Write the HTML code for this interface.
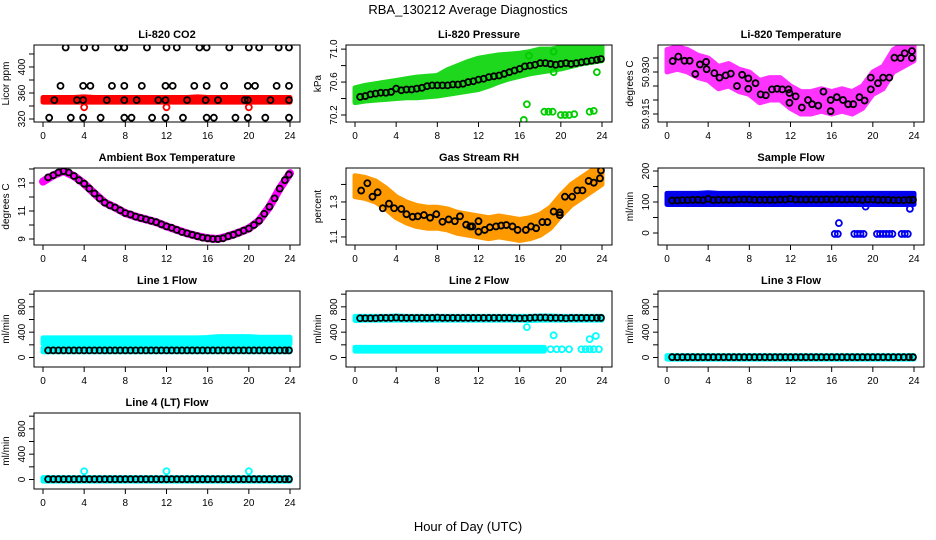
<!DOCTYPE html>
<html><head><meta charset="utf-8"><style>
body{margin:0;background:#fff}
svg{display:block;font-family:"Liberation Sans",sans-serif}
</style></head><body>
<svg id="chart" width="936" height="540" viewBox="0 0 936 540" xmlns="http://www.w3.org/2000/svg">
<text x="468" y="14" text-anchor="middle" font-size="13">RBA_130212  Average Diagnostics</text>
<text x="468" y="531" text-anchor="middle" font-size="13">Hour of Day (UTC)</text>
</svg>
<script>
// ---- shared data ----
const HALF = [0.5,1,1.5,2,2.5,3,3.5,4,4.5,5,5.5,6,6.5,7,7.5,8,8.5,9,9.5,10,10.5,11,11.5,12,12.5,13,13.5,14,14.5,15,15.5,16,16.5,17,17.5,18,18.5,19,19.5,20,20.5,21,21.5,22,22.5,23,23.5,23.9];
const HOURS = [0,1,2,3,4,5,6,7,8,9,10,11,12,13,14,15,16,17,18,19,20,21,22,23,24];
const X_TICKS = [0,4,8,12,16,20,24];

// CO2
const co2BandLo = [346,346,346,346,346,346,346,346,346,346,346,346,346,346,346,346,346,346,346,346,346,346,346,346,346];
const co2BandHi = [353,353,353,353,354,353,353,353,353,353,353,353,353,353,353,354,353,353,353,353,353,353,353,353,353];
const co2MeanX = [1.1,3.3,3.9,6.2,7.9,9.1,11.2,11.9,14.0,15.8,17.0,19.6,19.9,22.1,23.9, 2.2,4.0,5.1,7.3,7.9,10.1,12.0,13.0,15.2,15.9,18.1,20.0,21.0,22.9,23.9, 1.7,3.9,4.6,6.7,7.9,9.6,11.9,12.6,14.7,15.9,17.6,19.9,20.6,22.7,23.9, 0.6,2.7,3.9,5.6,7.9,8.6,10.6,11.9,13.6,15.9,16.6,18.7,19.9,21.6,23.9];
const co2MeanY = [349,349,349,349,349,349,349,349,349,349,349,349,349,349,349, 430,430,430,430,430,430,430,430,430,430,430,430,430,430,430, 371,371,371,371,371,371,371,371,371,371,371,371,371,371,371, 322,322,322,322,322,322,322,322,322,322,322,322,322,322,322];
const co2OutX = [4,12,20];
const co2OutY = [338,338,338];

// Pressure
const presBandLo = [70.35,70.37,70.38,70.39,70.40,70.41,70.41,70.42,70.43,70.45,70.47,70.49,70.51,70.55,70.60,70.64,70.67,70.70,70.72,70.74,70.76,70.79,70.82,70.84,70.86];
const presBandHi = [70.53,70.56,70.58,70.60,70.62,70.64,70.66,70.67,70.68,70.75,70.80,70.85,70.89,70.91,70.93,70.94,70.95,70.97,71.00,71.00,71.02,71.03,71.03,71.04,71.05];
const presMean = [70.42,70.43,70.45,70.46,70.47,70.47,70.48,70.52,70.50,70.51,70.51,70.52,70.53,70.55,70.56,70.56,70.56,70.56,70.57,70.57,70.58,70.60,70.61,70.63,70.64,70.66,70.67,70.68,70.70,70.72,70.74,70.76,70.79,70.80,70.81,70.83,70.83,70.82,70.81,70.82,70.83,70.82,70.83,70.84,70.85,70.86,70.87,70.88];
const presOutX = [16.4,16.7,18.4,18.8,19.2,19.3,20.0,20.4,20.8,21.3,22.8,23.2,23.5,16.9,19.3];
const presOutY = [70.14,70.33,70.24,70.24,70.24,70.72,70.20,70.20,70.20,70.21,70.24,70.25,70.72,70.92,70.97];

// Li-820 temperature
const tempBandLo = [50.930,50.931,50.930,50.928,50.927,50.924,50.925,50.923,50.922,50.919,50.920,50.920,50.917,50.915,50.915,50.916,50.915,50.916,50.915,50.917,50.922,50.924,50.930,50.932,50.934];
const tempBandHi = [50.938,50.939,50.938,50.936,50.935,50.932,50.933,50.931,50.930,50.927,50.928,50.928,50.925,50.923,50.923,50.924,50.923,50.924,50.923,50.925,50.930,50.932,50.938,50.940,50.942];
const tempMeanX = [0.55,1.1,1.7,2.2,2.75,3.2,3.8,3.85,4.6,5.1,5.7,6.2,6.8,7.3,7.9,7.9,8.6,9.1,9.6,10.2,10.7,11.2,11.8,11.9,11.9,12.5,13.1,13.7,14.1,14.7,15.2,15.9,15.9,16.5,17.1,17.6,18.1,18.7,19.2,19.8,19.8,20.5,21.0,21.6,22.1,22.7,23.1,23.8,23.8];
const tempMeanY = [50.9339,50.9355,50.934,50.934,50.9293,50.9327,50.9336,50.931,50.9296,50.928,50.9288,50.9294,50.925,50.929,50.9277,50.924,50.926,50.922,50.9217,50.9238,50.924,50.9238,50.9238,50.9225,50.919,50.9213,50.9173,50.920,50.9185,50.918,50.923,50.920,50.916,50.921,50.920,50.9185,50.9185,50.921,50.9198,50.9238,50.928,50.926,50.928,50.928,50.9351,50.935,50.9367,50.9375,50.935];

// Ambient box temperature
const ambBand = [13.1,13.55,13.85,13.5,12.95,12.25,11.6,11.25,10.85,10.6,10.4,10.2,9.9,9.65,9.4,9.2,9.05,9.0,9.2,9.45,9.75,10.3,11.3,12.6,13.7];
const ambMean = [13.4,13.55,13.75,13.85,13.75,13.5,13.2,12.95,12.6,12.25,11.9,11.6,11.4,11.25,11.05,10.85,10.75,10.6,10.5,10.4,10.3,10.2,10.05,9.9,9.8,9.65,9.5,9.4,9.3,9.2,9.1,9.05,9.0,9.0,9.05,9.2,9.3,9.45,9.6,9.75,10.0,10.3,10.8,11.3,11.9,12.6,13.2,13.6];

// Gas stream RH
const rhBandLo = [1.33,1.32,1.30,1.26,1.21,1.18,1.16,1.15,1.15,1.14,1.12,1.11,1.10,1.09,1.10,1.09,1.08,1.09,1.11,1.15,1.22,1.28,1.32,1.36,1.40];
const rhBandHi = [1.45,1.44,1.42,1.38,1.33,1.30,1.28,1.27,1.27,1.26,1.24,1.23,1.22,1.21,1.22,1.21,1.20,1.21,1.23,1.27,1.34,1.40,1.44,1.48,1.50];
const rhMeanX = [0.6,1.2,1.7,2.2,2.7,3.3,3.8,4.5,5.0,5.6,6.1,6.7,7.3,7.9,8.5,9.1,9.7,10.2,10.8,11.2,11.4,12.0,12.0,12.6,13.1,13.7,14.2,14.7,15.3,15.8,16.6,17.1,17.6,18.2,18.7,19.3,19.9,19.9,20.4,21.1,21.6,22.1,22.7,23.2,23.8,23.9];
const rhMeanY = [1.365,1.407,1.33,1.355,1.264,1.29,1.264,1.26,1.23,1.215,1.218,1.225,1.21,1.23,1.187,1.2,1.19,1.218,1.17,1.16,1.16,1.19,1.13,1.14,1.155,1.16,1.165,1.168,1.16,1.14,1.14,1.16,1.15,1.185,1.185,1.245,1.24,1.225,1.33,1.33,1.366,1.366,1.42,1.41,1.435,1.48];

// Sample flow
const sfBandLo = [92,92,92,92,92,92,92,92,92,92,92,92,92,92,92,92,92,92,92,92,92,92,92,92,92];
const sfBandHi = [128,128,128,128,130,128,128,128,128,128,128,128,128,128,128,128,128,128,128,128,128,128,128,128,128];
const sfMean = [105,105,106,106,107,107,106,110,106,107,107,107,107,108,108,108,107,107,107,107,107,108,108,110,108,108,108,108,108,108,109,108,109,108,108,108,108,107,108,108,107,107,107,106,106,106,107,107];
const sfOutX = [16.3,16.6,16.7,18.2,18.5,18.8,19.1,19.3,20.4,20.7,21.0,21.3,21.6,21.9,22.8,23.1,23.4,23.6];
const sfOutY = [-3,-3,32,-3,-3,-3,-3,85,-3,-3,-3,-3,-3,-3,-3,-3,-3,78];

// Line flows
const l1BandLo = [215,215,215,215,215,215,215,215,215,215,215,215,215,215,215,215,215,205,205,205,205,205,205,205,215];
const l1BandHi = [310,310,310,310,310,310,310,310,310,310,310,310,310,310,310,310,315,330,330,330,330,320,320,320,320];
const l1LowLo = [90,90,90,90,90,90,90,90,90,90,90,90,90,90,90,90,90,90,90,90,90,90,90,90,90];
const l1LowHi = [150,150,150,150,150,150,150,150,150,150,150,150,150,150,150,150,150,150,150,150,150,150,150,150,150];
const l1Mean = [112,112,112,112,112,112,112,112,112,112,112,112,112,112,112,112,112,112,112,112,112,112,112,112,112,112,112,112,112,112,112,112,112,112,112,112,112,112,112,112,112,112,112,112,112,112,112,112];

const l2BandLo = [585,590,590,590,590,590,590,590,590,590,590,590,590,590,590,590,590,585,590,590,590,590,590,590,590];
const l2BandHi = [650,650,650,650,655,650,650,650,650,650,650,650,650,650,650,650,650,650,655,655,650,650,650,650,650];
const l2LowLo = [100,100,100,100,100,100,100,100,100,100,100,100,100,100,100,100,100,100,100];
const l2LowHi = [160,160,160,160,160,160,160,160,160,160,160,160,160,160,160,160,160,160,160];
const l2LowHours = [0,1,2,3,4,5,6,7,8,9,10,11,12,13,14,15,16,17,18.4];
const l2Mean = [620,620,620,620,625,625,625,630,625,625,625,625,625,625,625,630,625,625,625,625,625,625,625,625,625,625,625,625,625,625,620,620,620,625,630,630,630,625,625,625,620,625,625,625,625,625,625,625];
const l2OutX = [16.7,19.3,22.8,23.4,19.0,19.6,20.1,20.8,22.0,22.4,22.8,23.2,23.7];
const l2OutY = [480,350,290,340,130,130,130,130,130,130,130,130,130];

const l3BandLo = [-25,-25,-25,-25,-25,-25,-25,-25,-25,-25,-25,-25,-25,-25,-25,-25,-25,-25,-25,-25,-25,-25,-25,-25,-25];
const l3BandHi = [30,30,30,30,30,30,30,30,30,30,30,30,30,30,30,30,30,30,30,30,30,30,30,30,30];
const l3Mean = [5,5,5,5,5,5,5,5,5,5,5,5,5,5,5,5,5,5,5,5,5,5,5,5,5,5,5,5,5,5,5,5,5,5,5,5,5,5,5,5,5,5,5,5,5,5,5,5];
const l4Mean = [5,5,5,5,5,5,5,5,5,5,5,5,5,5,5,5,5,5,5,5,5,5,5,5,5,5,5,5,5,5,5,5,5,5,5,5,5,5,5,5,5,5,5,5,5,5,5,5];
const l4OutX = [4,12,20];
const l4OutY = [130,130,130];

// ---- drawing ----
const NS = "http://www.w3.org/2000/svg";
const svg = document.getElementById("chart");
const COL_LEFT = [34,346,658];
const ROW_TOP = [45,168,291,413];
const ROW_H = [77,77,76,76];

function mk(tag, attrs, parent){
  const e = document.createElementNS(NS, tag);
  for (const k in attrs) e.setAttribute(k, attrs[k]);
  (parent||svg).appendChild(e);
  return e;
}

function makePanel(o){
  const L = COL_LEFT[o.col], R = L+266, T = ROW_TOP[o.row], B = T+ROW_H[o.row];
  const g = mk("g", {});
  
  
  const xs = h => L+9+h*(247/24);
  const ys = v => B-(v-o.ymin)/(o.ymax-o.ymin)*(B-T);
  const clipId = "clip-"+o.name;
  const cp = mk("clipPath", {id: clipId}, g);
  mk("rect", {x:L, y:T, width:266, height:B-T}, cp);
  const plot = mk("g", {"clip-path":"url(#"+clipId+")"}, g);
  
  
  // title
  const t = mk("text", {x:(L+R)/2, y:T-7, "text-anchor":"middle", "font-size":"11", "font-weight":"bold"}, g);
  t.textContent = o.title;
  
  
  // y label
  const yl = mk("text", {transform:"translate("+(L-25)+","+((T+B)/2)+") rotate(-90)", "text-anchor":"middle", "font-size":"10"}, g);
  yl.textContent = o.ylab;
  
  
  // x ticks
  X_TICKS.forEach(h => {
    const tk = mk("line", {x1:xs(h), x2:xs(h), y1:B, y2:B+5, stroke:"#000"}, g);
    
    
    const tl = mk("text", {x:xs(h), y:B+17, "text-anchor":"middle", "font-size":"10"}, g);
    tl.textContent = h;
    
    
  });
  o.yticks.forEach(v => {
    const tk = mk("line", {x1:L-5, x2:L, y1:ys(v), y2:ys(v), stroke:"#000"}, g);
    
    
  });
  o.ylabels.forEach((lab,i) => {
    const tl = mk("text", {transform:"translate("+(L-9)+","+ys(o.ylabelVals[i])+") rotate(-90)", "text-anchor":"middle", "font-size":"10"}, g);
    tl.textContent = lab;
    
    
  });
  return {g, plot, xs, ys, L, R, T, B};
}

function band(p, hrs, lo, hi, fill, name){
  let pts = hrs.map((h,i)=>p.xs(h)+","+p.ys(hi[i]));
  for (let i=hrs.length-1;i>=0;i--) pts.push(p.xs(hrs[i])+","+p.ys(lo[i]));
  const e = mk("polygon", {points:pts.join(" "), fill:fill, stroke:fill, "stroke-width":"5", "stroke-linejoin":"round"}, p.plot);
  
  
}
function pts(p, xsArr, ysArr, color, name){
  xsArr.forEach((h,i)=>{
    const c = mk("circle", {cx:p.xs(h), cy:p.ys(ysArr[i]), r:"3", fill:"none", stroke:color, "stroke-width":"1.8"}, p.plot);
    
    
  });
}
function box(p){
  const r = mk("rect", {x:p.L, y:p.T, width:266, height:p.B-p.T, fill:"none", stroke:"#000", "stroke-width":"1"}, p.g);
  
  
}

const FLOW = {ymin:-150, ymax:1050, yticks:[0,200,400,600,800,1000], ylabels:["0","400","800"], ylabelVals:[0,400,800], ylab:"ml/min"};

// CO2
let p = makePanel({name:"co2-panel", col:0,row:0,title:"Li-820 CO2",ylab:"Licor ppm",ymin:315.4,ymax:433.8,yticks:[320,340,360,380,400,420],ylabels:["320","360","400"],ylabelVals:[320,360,400]});
band(p, HOURS, co2BandLo, co2BandHi, "#ff0000", "co2-raw-band");
pts(p, co2OutX, co2OutY, "#ff0000", "co2-raw-point");
pts(p, co2MeanX, co2MeanY, "#000", "co2-mean-point");
box(p);

// Pressure
p = makePanel({name:"pressure-panel", col:1,row:0,title:"Li-820 Pressure",ylab:"kPa",ymin:70.115,ymax:71.05,yticks:[70.2,70.4,70.6,70.8,71.0],ylabels:["70.2","70.6","71.0"],ylabelVals:[70.2,70.6,71.0]});
band(p, HOURS, presBandLo, presBandHi, "#1ed81e", "pressure-raw-band");
pts(p, presOutX, presOutY, "#00cc00", "pressure-raw-point");
pts(p, HALF, presMean, "#000", "pressure-mean-point");
box(p);

// Li-820 temperature
p = makePanel({name:"licor-temp-panel", col:2,row:0,title:"Li-820 Temperature",ylab:"degrees C",ymin:50.91214,ymax:50.93964,yticks:[50.915,50.92,50.925,50.93,50.935],ylabels:["50.915","50.930"],ylabelVals:[50.915,50.93]});
band(p, HOURS, tempBandLo, tempBandHi, "#ff33ff", "licor-temp-raw-band");
pts(p, tempMeanX, tempMeanY, "#000", "licor-temp-mean-point");
box(p);

// Ambient
p = makePanel({name:"ambient-temp-panel", col:0,row:1,title:"Ambient Box Temperature",ylab:"degrees C",ymin:8.571,ymax:14.07,yticks:[9,10,11,12,13,14],ylabels:["9","11","13"],ylabelVals:[9,11,13]});
(function(){
  const e = mk("polyline", {points:HOURS.map((h,i)=>p.xs(h)+","+p.ys(ambBand[i])).join(" "), fill:"none", stroke:"#ff00ff", "stroke-width":"8", "stroke-linejoin":"round", "stroke-linecap":"round"}, p.plot);
  
  
})();
pts(p, HALF, ambMean, "#000", "ambient-mean-point");
box(p);

// RH
p = makePanel({name:"rh-panel", col:1,row:1,title:"Gas Stream RH",ylab:"percent",ymin:1.054,ymax:1.494,yticks:[1.1,1.2,1.3,1.4],ylabels:["1.1","1.3"],ylabelVals:[1.1,1.3]});
band(p, HOURS, rhBandLo, rhBandHi, "#ff9900", "rh-raw-band");
pts(p, rhMeanX, rhMeanY, "#000", "rh-mean-point");
box(p);

// Sample flow
p = makePanel({name:"sample-flow-panel", col:2,row:1,title:"Sample Flow",ylab:"ml/min",ymin:-38.7,ymax:209.7,yticks:[0,50,100,150,200],ylabels:["0","100","200"],ylabelVals:[0,100,200]});
band(p, HOURS, sfBandLo, sfBandHi, "#0000ee", "sample-flow-raw-band");
pts(p, sfOutX, sfOutY, "#0000ee", "sample-flow-raw-point");
pts(p, HALF, sfMean, "#000", "sample-flow-mean-point");
box(p);

// Line 1
p = makePanel(Object.assign({name:"line1-flow-panel", col:0,row:2,title:"Line 1 Flow"}, FLOW));
band(p, HOURS, l1BandLo, l1BandHi, "#00ffff", "line1-raw-band");
band(p, HOURS, l1LowLo, l1LowHi, "#00ffff", "line1-raw-low-band");
pts(p, HALF, l1Mean, "#000", "line1-mean-point");
box(p);

// Line 2
p = makePanel(Object.assign({name:"line2-flow-panel", col:1,row:2,title:"Line 2 Flow"}, FLOW));
band(p, HOURS, l2BandLo, l2BandHi, "#00ffff", "line2-raw-band");
band(p, l2LowHours, l2LowLo, l2LowHi, "#00ffff", "line2-raw-low-band");
pts(p, l2OutX, l2OutY, "#00ffff", "line2-raw-point");
pts(p, HALF, l2Mean, "#000", "line2-mean-point");
box(p);

// Line 3
p = makePanel(Object.assign({name:"line3-flow-panel", col:2,row:2,title:"Line 3 Flow"}, FLOW));
band(p, HOURS, l3BandLo, l3BandHi, "#00ffff", "line3-raw-band");
pts(p, HALF, l3Mean, "#000", "line3-mean-point");
box(p);

// Line 4
p = makePanel(Object.assign({name:"line4-flow-panel", col:0,row:3,title:"Line 4 (LT) Flow"}, FLOW));
band(p, HOURS, l3BandLo, l3BandHi, "#00ffff", "line4-raw-band");
pts(p, l4OutX, l4OutY, "#00ffff", "line4-raw-point");
pts(p, HALF, l4Mean, "#000", "line4-mean-point");
box(p);
</script>
</body></html>
